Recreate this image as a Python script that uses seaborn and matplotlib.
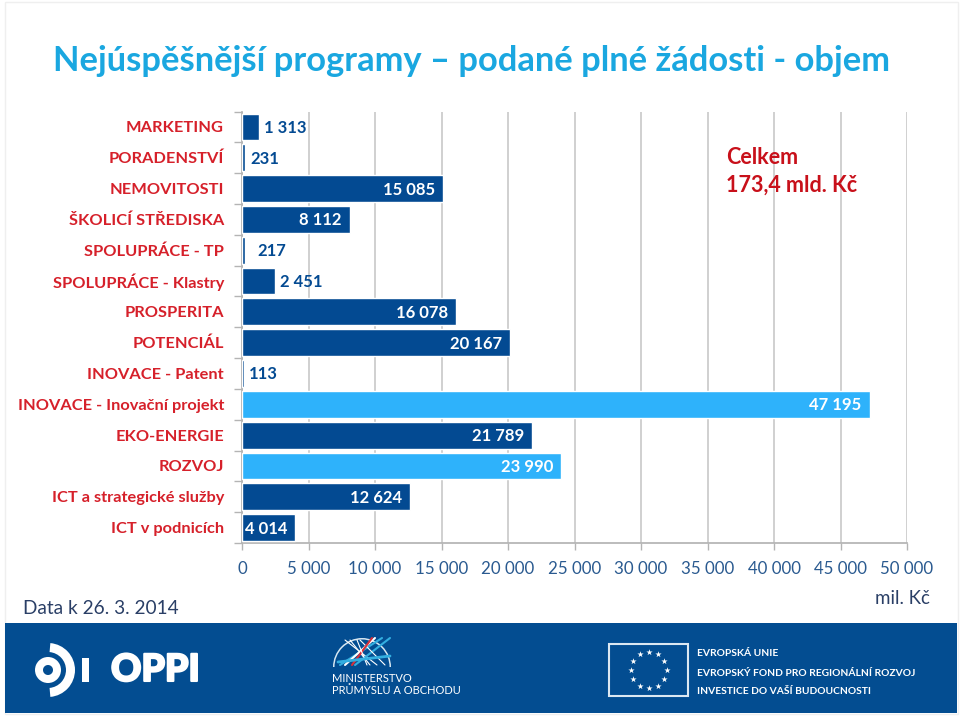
import numpy as np
import pandas as pd
import matplotlib
matplotlib.use('agg')
import matplotlib.pyplot as plt
import matplotlib.patheffects as pe
from matplotlib.patches import Rectangle, Wedge
import seaborn as sns

categories = ["MARKETING", "PORADENSTVÍ", "NEMOVITOSTI", "ŠKOLICÍ STŘEDISKA", "SPOLUPRÁCE - TP",
              "SPOLUPRÁCE - Klastry", "PROSPERITA", "POTENCIÁL", "INOVACE - Patent",
              "INOVACE - Inovační projekt", "EKO-ENERGIE", "ROZVOJ", "ICT a strategické služby",
              "ICT v podnicích"]
values = [1313, 231, 15085, 8112, 217, 2451, 16078, 20167, 113, 47195, 21789, 23990, 12624, 4014]
highlighted = ["INOVACE - Inovační projekt", "ROZVOJ"]
x_ticks = [0, 5000, 10000, 15000, 20000, 25000, 30000, 35000, 40000, 45000, 50000]

DARK = "#034a92"
LIGHT = "#2eb2fb"
RED = "#d6202a"
TOTAL_RED = "#c8101a"
BANNER = "#034d91"
TITLE = "#1aa7e0"
AXIS = "#b4b4b4"
FONT = "Lato"


def spaced(v):
    return f"{v:,}".replace(",", " ")


sns.set_theme(style="white")
plt.rcParams['font.family'] = [FONT, 'DejaVu Sans']

W, H = 960, 716
fig = plt.figure(figsize=(9.6, 7.16), dpi=100, facecolor="white")

# chart area, in pixels
left, right, top, bottom = 242, 907, 111.5, 543
ax = fig.add_axes([left / W, 1 - bottom / H, (right - left) / W, (bottom - top) / H])

df = pd.DataFrame({"program": categories, "objem": values})
palette = {c: (LIGHT if c in highlighted else DARK) for c in categories}
sns.barplot(data=df, x="objem", y="program", hue="program", palette=palette, dodge=False,
            legend=False, width=0.87, saturation=1, ax=ax, zorder=3)

ax.set_xlim(0, 50000)
ax.set_xticks(x_ticks)
ax.set_xticklabels([spaced(t) for t in x_ticks], fontsize=12.2, color="#2a5a90")
ax.set_xlabel("")
ax.set_ylabel("")
ax.tick_params(axis="y", labelsize=11.8, labelcolor=RED, pad=13, length=0)
ax.tick_params(axis="x", pad=8, length=5, width=1, color=AXIS, bottom=True)
ax.set_yticks(np.arange(-0.5, len(categories)), minor=True)
ax.tick_params(axis="y", which="minor", length=6, width=1, color=AXIS, left=True)
for lab in ax.get_yticklabels():
    lab.set_fontweight("bold")
ax.grid(axis="x", color="#cdcdcd", lw=1.3, zorder=0)
sns.despine(ax=ax, left=False, bottom=False, top=True, right=True)
for side in ["left", "bottom"]:
    ax.spines[side].set_color(AXIS)
    ax.spines[side].set_zorder(1)

for i, v in enumerate(values):
    if v >= 4000:
        ax.annotate(spaced(v), (v, i), xytext=(-8, -1), textcoords="offset pixels", ha="right",
                    va="center", color="white", fontsize=12, fontweight="bold", zorder=5)
    else:
        gap = 12 if v == 217 else 5
        ax.annotate(spaced(v), (v, i), xytext=(gap, -1), textcoords="offset pixels", ha="left",
                    va="center", color=DARK, fontsize=12, fontweight="bold", zorder=5)

# page overlay in pixel coordinates: title, notes, footer banner
page = fig.add_axes([0, 0, 1, 1], zorder=10)
page.set_xlim(0, W)
page.set_ylim(H, 0)
page.axis("off")
page.patch.set_alpha(0)

page.add_patch(Rectangle((4.5, 1.5), 953, 712, fill=False, ec="#efefef", lw=1))
page.text(53, 61, "Nejúspěšnější programy – podané plné žádosti - objem", fontsize=24.85,
          fontweight="bold", color=TITLE, va="center", ha="left")
page.text(726, 157, "Celkem", fontsize=15.5, fontweight="bold", color=TOTAL_RED, va="center")
page.text(726, 185, "173,4 mld. Kč", fontsize=15.5, fontweight="bold", color=TOTAL_RED, va="center")
page.text(23, 608, "Data k 26. 3. 2014", fontsize=13.7, color="#2a3f66", va="center")
page.text(875, 598, "mil. Kč", fontsize=13.5, color="#2a3f66", va="center")

page.add_patch(Rectangle((5, 623), 952, 90, color=BANNER, lw=0))

# OPPI logo
page.add_patch(Wedge((48, 670), 13, 0, 360, width=8, color="white", lw=0))
page.add_patch(Wedge((48, 670), 27, -85, 85, width=9, color="white", lw=0))
page.add_patch(Rectangle((82, 658), 7, 24, color="white", lw=0))
page.text(111, 670, "OPPI", fontsize=27, fontweight="black", color="white", va="center",
          path_effects=[pe.withStroke(linewidth=1.5, foreground="white")])

# ministry logo, rough globe
page.add_patch(Wedge((362, 667), 29, 180, 360, width=1.5, color="#d8e8f2", lw=0))
for x0, x1, c in [(340, 382, "#33aee0"), (345, 375, "white"), (355, 390, "#33aee0"), (352, 372, "#d6303a")]:
    page.plot([x0, x1], [665, 638], color=c, lw=1.5)
    page.plot([x1 - 5, x0 + 5], [665, 640], color="white", lw=0.8)
page.plot([338, 390], [662, 656], color="#33aee0", lw=2)
page.text(332, 678, "MINISTERSTVO", fontsize=8, color="white", va="center")
page.text(332, 691, "PRŮMYSLU A OBCHODU", fontsize=8, color="white", va="center")

# EU flag
page.add_patch(Rectangle((609, 644), 79, 52, fill=False, ec="#dce8f2", lw=1.5))
angles = np.deg2rad(np.arange(0, 360, 30))
page.scatter(648.5 + 18 * np.cos(angles), 670 + 18 * np.sin(angles), marker="*", s=22, color="white", lw=0)
page.text(697, 654, "EVROPSKÁ UNIE", fontsize=7.35, fontweight="bold", color="white", va="center")
page.text(697, 673, "EVROPSKÝ FOND PRO REGIONÁLNÍ ROZVOJ", fontsize=7.35, fontweight="bold", color="white", va="center")
page.text(697, 691, "INVESTICE DO VAŠÍ BUDOUCNOSTI", fontsize=7.35, fontweight="bold", color="white", va="center")

fig.savefig("out.png", dpi=100)
